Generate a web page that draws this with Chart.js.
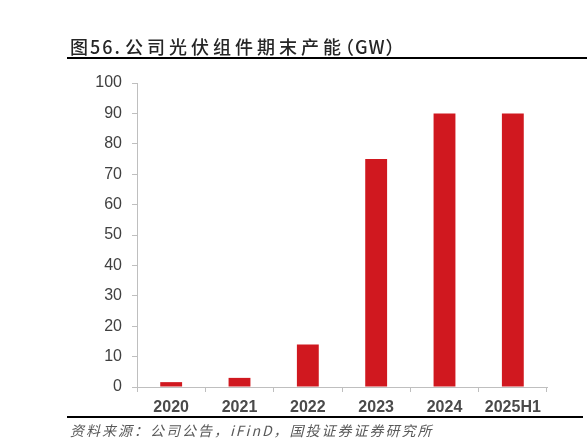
<!DOCTYPE html>
<html><head><meta charset="utf-8">
<script src="https://cdn.jsdelivr.net/npm/chart.js@4.4.1/dist/chart.umd.min.js"></script>
<style>
html,body{margin:0;padding:0;background:#fff;}
#wrap{position:relative;width:588px;height:448px;overflow:hidden;}
#c{position:absolute;left:0;top:0;}
.title{position:absolute;left:70px;top:34px;font-family:"Noto Sans CJK SC";font-size:18px;font-weight:500;color:#262626;white-space:nowrap;line-height:24px;}
.title .cj{letter-spacing:4px;}
.title .lt{letter-spacing:2px;margin-right:3px;}
.title .pr{letter-spacing:1px;font-feature-settings:"halt";}
.src{position:absolute;left:70px;top:421px;font-family:"Noto Sans CJK SC";font-size:14px;font-style:italic;color:#595959;letter-spacing:2px;white-space:nowrap;line-height:18px;}
.rule{position:absolute;left:67px;height:2px;background:#000;}
</style></head>
<body>
<div id="wrap">
<canvas id="c" width="588" height="448"></canvas>
<div class="title"><span class="lt">图56.</span><span class="cj">公司光伏组件期末产能</span><span class="pr">（GW）</span></div>
<div class="rule" style="top:57px;width:520px;"></div>
<div class="rule" style="top:416px;width:516px;"></div>
<div class="src">资料来源：公司公告，iFinD，国投证券证券研究所</div>
</div>
<script>
const categories = ["2020","2021","2022","2023","2024","2025H1"];
const capacityGW = [1.6, 3, 14, 75, 90, 90];
const yTicks = [0,10,20,30,40,50,60,70,80,90,100];

new Chart(document.getElementById('c'), {
  type: 'bar',
  data: {
    labels: categories,
    datasets: [{
      data: capacityGW,
      backgroundColor: '#D0181F',
      borderWidth: 0,
      categoryPercentage: 1,
      barPercentage: 0.32
    }]
  },
  options: {
    responsive: false,
    animation: false,
    devicePixelRatio: 1,
    layout: { padding: { left: 0, right: 41, top: 83, bottom: 31 } },
    plugins: { legend: { display: false }, tooltip: { enabled: false }, title: { display: false } },
    scales: {
      x: {
        grid: { display: true, drawOnChartArea: false, drawTicks: true, tickLength: 5, color: '#BFBFBF', offset: true },
        border: { display: true, color: '#BFBFBF', width: 1 },
        ticks: { color: '#4A4A4A', font: { family: 'Liberation Sans', size: 16, weight: 'bold' }, padding: 6, maxRotation: 0 },
        afterFit: s => { s.height = 30; }
      },
      y: {
        min: 0, max: 100,
        afterBuildTicks: s => { s.ticks = yTicks.map(v => ({ value: v })); },
        grid: { display: true, drawOnChartArea: false, drawTicks: true, tickLength: 5, color: '#BFBFBF' },
        border: { display: true, color: '#BFBFBF', width: 1 },
        ticks: { color: '#404040', font: { family: 'Liberation Sans', size: 16 }, padding: 10 },
        afterFit: s => { s.width = 137; }
      }
    }
  }
});
</script>
</body></html>
